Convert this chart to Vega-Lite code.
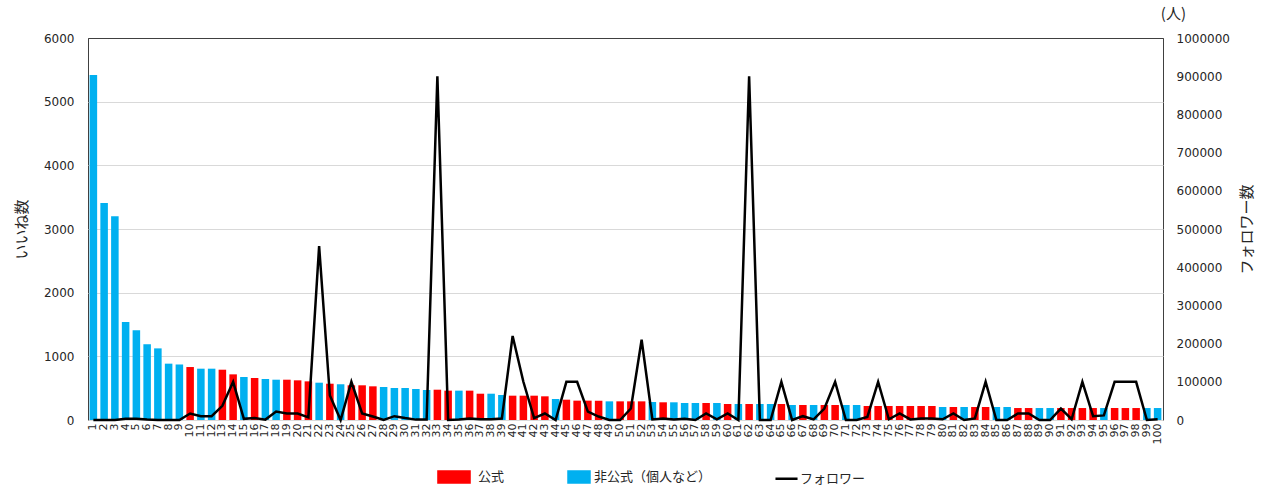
{
  "$schema": "https://vega.github.io/schema/vega-lite/v6.json",
  "width": 1075,
  "height": 382,
  "autosize": {"type": "none"},
  "padding": {"left": 88, "top": 38, "right": 107, "bottom": 68},
  "background": "white",
  "config": {
    "font": "DejaVu Sans, Noto Sans CJK JP",
    "view": {"stroke": "#404040", "strokeWidth": 1},
    "axis": {"labelColor": "#262626", "titleColor": "#262626", "titleFontWeight": "normal", "domain": false, "ticks": false}
  },
  "title": {"text": "(人)", "anchor": "end", "frame": "group", "fontSize": 15, "fontWeight": "normal", "font": "Noto Sans CJK JP", "color": "#262626", "baseline": "bottom", "offset": -5, "dx": 23},
  "data": {"values": [
    {"rank": 1, "likes": 5420, "type": "非公式（個人など）", "followers": 0},
    {"rank": 2, "likes": 3410, "type": "非公式（個人など）", "followers": 0},
    {"rank": 3, "likes": 3200, "type": "非公式（個人など）", "followers": 0},
    {"rank": 4, "likes": 1540, "type": "非公式（個人など）", "followers": 3000},
    {"rank": 5, "likes": 1410, "type": "非公式（個人など）", "followers": 3000},
    {"rank": 6, "likes": 1190, "type": "非公式（個人など）", "followers": 1000},
    {"rank": 7, "likes": 1125, "type": "非公式（個人など）", "followers": 0},
    {"rank": 8, "likes": 885, "type": "非公式（個人など）", "followers": 0},
    {"rank": 9, "likes": 872, "type": "非公式（個人など）", "followers": 0},
    {"rank": 10, "likes": 832, "type": "公式", "followers": 17000},
    {"rank": 11, "likes": 806, "type": "非公式（個人など）", "followers": 10000},
    {"rank": 12, "likes": 806, "type": "非公式（個人など）", "followers": 10000},
    {"rank": 13, "likes": 790, "type": "公式", "followers": 37000},
    {"rank": 14, "likes": 717, "type": "公式", "followers": 100000},
    {"rank": 15, "likes": 675, "type": "非公式（個人など）", "followers": 3000},
    {"rank": 16, "likes": 660, "type": "公式", "followers": 5000},
    {"rank": 17, "likes": 644, "type": "非公式（個人など）", "followers": 1000},
    {"rank": 18, "likes": 633, "type": "非公式（個人など）", "followers": 22000},
    {"rank": 19, "likes": 633, "type": "公式", "followers": 17000},
    {"rank": 20, "likes": 623, "type": "公式", "followers": 17000},
    {"rank": 21, "likes": 607, "type": "公式", "followers": 7000},
    {"rank": 22, "likes": 586, "type": "非公式（個人など）", "followers": 455000},
    {"rank": 23, "likes": 570, "type": "公式", "followers": 64000},
    {"rank": 24, "likes": 560, "type": "非公式（個人など）", "followers": 0},
    {"rank": 25, "likes": 545, "type": "公式", "followers": 100000},
    {"rank": 26, "likes": 545, "type": "公式", "followers": 17000},
    {"rank": 27, "likes": 529, "type": "公式", "followers": 9000},
    {"rank": 28, "likes": 518, "type": "非公式（個人など）", "followers": 0},
    {"rank": 29, "likes": 503, "type": "非公式（個人など）", "followers": 10000},
    {"rank": 30, "likes": 503, "type": "非公式（個人など）", "followers": 5000},
    {"rank": 31, "likes": 487, "type": "非公式（個人など）", "followers": 1000},
    {"rank": 32, "likes": 471, "type": "非公式（個人など）", "followers": 1000},
    {"rank": 33, "likes": 476, "type": "公式", "followers": 900000},
    {"rank": 34, "likes": 461, "type": "公式", "followers": 0},
    {"rank": 35, "likes": 461, "type": "非公式（個人など）", "followers": 1500},
    {"rank": 36, "likes": 461, "type": "公式", "followers": 4000},
    {"rank": 37, "likes": 413, "type": "公式", "followers": 2000},
    {"rank": 38, "likes": 413, "type": "非公式（個人など）", "followers": 2000},
    {"rank": 39, "likes": 393, "type": "非公式（個人など）", "followers": 4000},
    {"rank": 40, "likes": 382, "type": "公式", "followers": 220000},
    {"rank": 41, "likes": 382, "type": "公式", "followers": 100000},
    {"rank": 42, "likes": 382, "type": "公式", "followers": 5000},
    {"rank": 43, "likes": 372, "type": "公式", "followers": 17000},
    {"rank": 44, "likes": 330, "type": "非公式（個人など）", "followers": 0},
    {"rank": 45, "likes": 319, "type": "公式", "followers": 100000},
    {"rank": 46, "likes": 304, "type": "公式", "followers": 100000},
    {"rank": 47, "likes": 304, "type": "公式", "followers": 22000},
    {"rank": 48, "likes": 304, "type": "公式", "followers": 9000},
    {"rank": 49, "likes": 293, "type": "非公式（個人など）", "followers": 0},
    {"rank": 50, "likes": 293, "type": "公式", "followers": 0},
    {"rank": 51, "likes": 293, "type": "公式", "followers": 30000},
    {"rank": 52, "likes": 293, "type": "公式", "followers": 210000},
    {"rank": 53, "likes": 283, "type": "非公式（個人など）", "followers": 1500},
    {"rank": 54, "likes": 278, "type": "公式", "followers": 4000},
    {"rank": 55, "likes": 278, "type": "非公式（個人など）", "followers": 1500},
    {"rank": 56, "likes": 267, "type": "非公式（個人など）", "followers": 3000},
    {"rank": 57, "likes": 267, "type": "非公式（個人など）", "followers": 0},
    {"rank": 58, "likes": 267, "type": "公式", "followers": 17000},
    {"rank": 59, "likes": 267, "type": "非公式（個人など）", "followers": 2000},
    {"rank": 60, "likes": 251, "type": "公式", "followers": 17000},
    {"rank": 61, "likes": 251, "type": "非公式（個人など）", "followers": 0},
    {"rank": 62, "likes": 251, "type": "公式", "followers": 900000},
    {"rank": 63, "likes": 251, "type": "非公式（個人など）", "followers": 0},
    {"rank": 64, "likes": 251, "type": "非公式（個人など）", "followers": 0},
    {"rank": 65, "likes": 251, "type": "公式", "followers": 100000},
    {"rank": 66, "likes": 236, "type": "非公式（個人など）", "followers": 0},
    {"rank": 67, "likes": 236, "type": "公式", "followers": 10000},
    {"rank": 68, "likes": 236, "type": "非公式（個人など）", "followers": 1500},
    {"rank": 69, "likes": 236, "type": "公式", "followers": 30000},
    {"rank": 70, "likes": 236, "type": "公式", "followers": 100000},
    {"rank": 71, "likes": 236, "type": "非公式（個人など）", "followers": 0},
    {"rank": 72, "likes": 236, "type": "非公式（個人など）", "followers": 0},
    {"rank": 73, "likes": 220, "type": "公式", "followers": 8000},
    {"rank": 74, "likes": 220, "type": "公式", "followers": 100000},
    {"rank": 75, "likes": 220, "type": "公式", "followers": 2000},
    {"rank": 76, "likes": 220, "type": "公式", "followers": 17000},
    {"rank": 77, "likes": 220, "type": "公式", "followers": 1500},
    {"rank": 78, "likes": 220, "type": "公式", "followers": 4000},
    {"rank": 79, "likes": 220, "type": "公式", "followers": 4000},
    {"rank": 80, "likes": 204, "type": "非公式（個人など）", "followers": 2000},
    {"rank": 81, "likes": 204, "type": "公式", "followers": 17000},
    {"rank": 82, "likes": 204, "type": "非公式（個人など）", "followers": 0},
    {"rank": 83, "likes": 204, "type": "公式", "followers": 4000},
    {"rank": 84, "likes": 204, "type": "公式", "followers": 100000},
    {"rank": 85, "likes": 204, "type": "非公式（個人など）", "followers": 0},
    {"rank": 86, "likes": 204, "type": "非公式（個人など）", "followers": 0},
    {"rank": 87, "likes": 188, "type": "公式", "followers": 17000},
    {"rank": 88, "likes": 188, "type": "公式", "followers": 17000},
    {"rank": 89, "likes": 188, "type": "非公式（個人など）", "followers": 0},
    {"rank": 90, "likes": 188, "type": "非公式（個人など）", "followers": 0},
    {"rank": 91, "likes": 188, "type": "公式", "followers": 30000},
    {"rank": 92, "likes": 188, "type": "公式", "followers": 2000},
    {"rank": 93, "likes": 188, "type": "公式", "followers": 100000},
    {"rank": 94, "likes": 188, "type": "公式", "followers": 10000},
    {"rank": 95, "likes": 188, "type": "非公式（個人など）", "followers": 12000},
    {"rank": 96, "likes": 188, "type": "公式", "followers": 100000},
    {"rank": 97, "likes": 188, "type": "公式", "followers": 100000},
    {"rank": 98, "likes": 188, "type": "公式", "followers": 100000},
    {"rank": 99, "likes": 188, "type": "非公式（個人など）", "followers": 0},
    {"rank": 100, "likes": 188, "type": "非公式（個人など）", "followers": 2000}
  ]},
  "encoding": {
    "x": {
      "field": "rank",
      "type": "ordinal",
      "scale": {"paddingInner": 0.3, "paddingOuter": 0.15},
      "axis": {"title": null, "labelAngle": -90, "labelFontSize": 11, "labelPadding": 3, "labelOverlap": false, "grid": false}
    }
  },
  "layer": [
    {
      "mark": {"type": "bar"},
      "encoding": {
        "y": {
          "field": "likes",
          "type": "quantitative",
          "scale": {"domain": [0, 6000]},
          "axis": {
            "title": "いいね数",
            "titleFont": "Noto Sans CJK JP",
            "titleFontSize": 15,
            "titlePadding": 14,
            "labelFontSize": 12,
            "labelPadding": 14,
            "format": "d",
            "values": [0, 1000, 2000, 3000, 4000, 5000, 6000],
            "grid": true,
            "gridColor": {"condition": {"test": "datum.value === 6000", "value": "#404040"}, "value": "#d9d9d9"}
          }
        },
        "color": {
          "field": "type",
          "type": "nominal",
          "scale": {"domain": ["公式", "非公式（個人など）", "フォロワー"], "range": ["#FF0000", "#00B0F0", "#000000"]},
          "legend": {
            "title": null,
            "orient": "none",
            "legendX": 360,
            "legendY": 425,
            "direction": "horizontal",
            "columnPadding": 58,
            "labelFont": "Noto Sans CJK JP",
            "labelFontSize": 13,
            "labelColor": "#262626",
            "labelOffset": 3,
            "symbolSize": 576,
            "encode": {
              "symbols": {
                "update": {
                  "shape": {"signal": "datum.value === 'フォロワー' ? 'M-0.67,0H1.17' : (datum.value === '公式' ? 'M-1.92,-0.46H0.67V0.46H-1.92Z' : 'M-0.75,-0.46H1V0.46H-0.75Z')"},
                  "fill": {"signal": "datum.value === 'フォロワー' ? 'transparent' : (datum.value === '公式' ? '#FF0000' : '#00B0F0')"},
                  "stroke": {"signal": "datum.value === 'フォロワー' ? '#000000' : 'transparent'"},
                  "strokeWidth": {"value": 2.5},
                  "opacity": {"value": 1},
                  "size": {"value": 576}
                }
              }
            }
          }
        }
      }
    },
    {
      "mark": {"type": "line", "strokeWidth": 2.5},
      "encoding": {
        "y": {
          "field": "followers",
          "type": "quantitative",
          "scale": {"domain": [0, 1000000]},
          "axis": {
            "orient": "right",
            "title": "フォロワー数",
            "titleFont": "Noto Sans CJK JP",
            "titleFontSize": 15,
            "titleAngle": -90,
            "titleBaseline": "top",
            "titlePadding": 10,
            "labelFontSize": 12,
            "labelPadding": 13,
            "format": "d",
            "values": [0, 100000, 200000, 300000, 400000, 500000, 600000, 700000, 800000, 900000, 1000000],
            "grid": false
          }
        },
        "color": {"datum": "フォロワー"}
      }
    }
  ],
  "resolve": {"scale": {"y": "independent"}}
}
